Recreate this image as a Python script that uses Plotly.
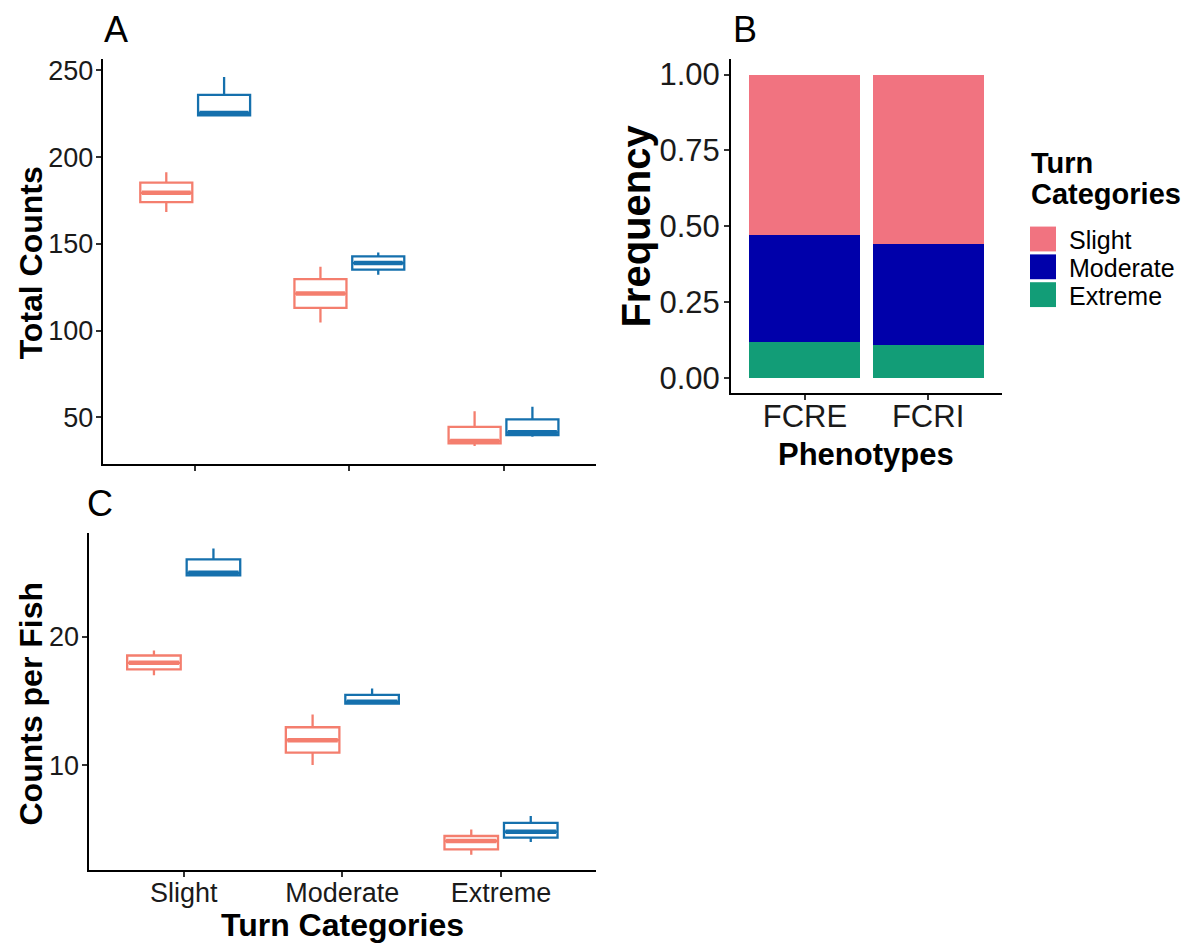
import plotly.graph_objects as go

# ---- data ----
turn_categories = ["Slight", "Moderate", "Extreme"]
phenotypes = ["FCRE", "FCRI"]

# Panel A: total counts, box statistics per turn category
total_fcre_lower = [168.4, 104.8, 33.6]
total_fcre_q1 = [174.1, 113.2, 35.1]
total_fcre_median = [179.5, 121.4, 36.5]
total_fcre_q3 = [185.4, 129.7, 44.6]
total_fcre_upper = [191.3, 136.9, 53.6]

total_fcri_lower = [224.2, 132.3, 38.9]
total_fcri_q1 = [224.2, 135.2, 39.9]
total_fcri_median = [225.5, 139.0, 41.4]
total_fcri_q3 = [236.0, 142.8, 48.9]
total_fcri_upper = [246.2, 145.1, 56.1]

# Panel C: counts per fish
fish_fcre_lower = [17.0, 10.0, 3.0]
fish_fcre_q1 = [17.47, 10.98, 3.43]
fish_fcre_median = [17.98, 11.94, 4.08]
fish_fcre_q3 = [18.55, 12.95, 4.47]
fish_fcre_upper = [18.94, 13.95, 4.98]

fish_fcri_lower = [24.8, 14.8, 4.0]
fish_fcri_q1 = [24.8, 14.8, 4.34]
fish_fcri_median = [25.0, 14.95, 4.8]
fish_fcri_q3 = [26.05, 15.48, 5.5]
fish_fcri_upper = [26.9, 15.97, 6.02]

# Panel B: frequency of each turn category per phenotype
freq_slight = [0.529, 0.560]
freq_moderate = [0.351, 0.332]
freq_extreme = [0.120, 0.108]

# ---- styling ----
FONT = "Liberation Sans, Arial, sans-serif"
COL_FCRE = "#F47E6E"
COL_FCRI = "#1570AD"
BAR_COLORS = {"Slight": "#F17380", "Moderate": "#0000AA", "Extreme": "#129D77"}
W, H = 1203, 945

DODGE = 0.1875
BOX_W = 0.3375


def px_x(p):
    return p / W


def px_y(p):
    return 1 - p / H


def expanded(lo, hi, mult=0.05):
    span = hi - lo
    return [lo - mult * span, hi + mult * span]


fig = go.Figure()

cat_pos = [i + 1 for i in range(len(turn_categories))]


def add_boxes(xa, ya, lower, q1, med, q3, upper, color, offset):
    xs = [c + offset for c in cat_pos]
    fig.add_trace(go.Box(
        x=xs, lowerfence=lower, q1=q1, median=med, q3=q3, upperfence=upper,
        width=BOX_W, whiskerwidth=0, fillcolor="rgba(0,0,0,0)",
        line=dict(color=color, width=2.3), boxpoints=False,
        xaxis=xa, yaxis=ya, showlegend=False, hoverinfo="skip",
    ))
    # heavier median line, as in the ggplot default
    for x, m in zip(xs, med):
        fig.add_trace(go.Scatter(
            x=[x - BOX_W / 2 + 0.01, x + BOX_W / 2 - 0.01], y=[m, m],
            mode="lines", line=dict(color=color, width=4.5),
            xaxis=xa, yaxis=ya, showlegend=False, hoverinfo="skip",
        ))


# Panel A
add_boxes("x", "y", total_fcre_lower, total_fcre_q1, total_fcre_median,
          total_fcre_q3, total_fcre_upper, COL_FCRE, -DODGE)
add_boxes("x", "y", total_fcri_lower, total_fcri_q1, total_fcri_median,
          total_fcri_q3, total_fcri_upper, COL_FCRI, DODGE)

# Panel C
add_boxes("x3", "y3", fish_fcre_lower, fish_fcre_q1, fish_fcre_median,
          fish_fcre_q3, fish_fcre_upper, COL_FCRE, -DODGE)
add_boxes("x3", "y3", fish_fcri_lower, fish_fcri_q1, fish_fcri_median,
          fish_fcri_q3, fish_fcri_upper, COL_FCRI, DODGE)

# Panel B: stacked bars (Extreme at the bottom)
for name, vals in [("Extreme", freq_extreme), ("Moderate", freq_moderate), ("Slight", freq_slight)]:
    fig.add_trace(go.Bar(
        x=phenotypes, y=vals, name=name, width=0.9,
        marker=dict(color=BAR_COLORS[name], line=dict(width=0)),
        xaxis="x2", yaxis="y2", showlegend=False,
    ))

total_lo = min(total_fcre_lower + total_fcri_lower)
total_hi = max(total_fcre_upper + total_fcri_upper)
fish_lo = min(fish_fcre_lower + fish_fcri_lower)
fish_hi = max(fish_fcre_upper + fish_fcri_upper)

axis_common = dict(
    showgrid=False, zeroline=False, showline=True, linecolor="black", linewidth=2,
    ticks="outside", ticklen=5, tickwidth=1.5, tickcolor="#333333",
)

fig.update_layout(
    width=W, height=H,
    margin=dict(l=0, r=0, t=0, b=0),
    paper_bgcolor="white", plot_bgcolor="white",
    barmode="stack", bargap=0.1,
    font=dict(family=FONT, color="black"),
    xaxis=dict(**axis_common, domain=[px_x(102.7), px_x(596)], range=[0.4, 3.6],
               tickvals=cat_pos, showticklabels=False, anchor="y"),
    yaxis=dict(**axis_common, domain=[px_y(464.3), px_y(56)],
               range=expanded(total_lo, total_hi), tickvals=[50, 100, 150, 200, 250],
               tickfont=dict(size=27, color="#1a1a1a"), ticklabelstandoff=-3, anchor="x"),
    xaxis2=dict(**axis_common, domain=[px_x(731), px_x(1002)], range=[-0.6, 1.6],
                type="category", tickfont=dict(size=31, color="#1a1a1a"),
                ticklabelstandoff=-10, anchor="y2"),
    yaxis2=dict(**axis_common, domain=[px_y(392.7), px_y(56.7)], range=[-0.05, 1.05],
                tickvals=[0, 0.25, 0.5, 0.75, 1.0], tickformat=".2f",
                tickfont=dict(size=31, color="#1a1a1a"), ticklabelstandoff=-2, anchor="x2"),
    xaxis3=dict(**axis_common, domain=[px_x(88.5), px_x(596.2)], range=[0.4, 3.6],
                tickvals=cat_pos, ticktext=turn_categories,
                tickfont=dict(size=27, color="#1a1a1a"), ticklabelstandoff=-8, anchor="y3"),
    yaxis3=dict(**axis_common, domain=[px_y(872.7), px_y(533.5)],
                range=expanded(fish_lo, fish_hi), tickvals=[10, 20],
                tickfont=dict(size=27, color="#1a1a1a"), ticklabelstandoff=-3, anchor="x3"),
)

annotations = []


def label(text, x, y, size, angle=0, xanchor="center", yanchor="middle"):
    annotations.append(dict(
        text=text, x=px_x(x), y=px_y(y), xref="paper", yref="paper",
        showarrow=False, textangle=angle, xanchor=xanchor, yanchor=yanchor,
        font=dict(family=FONT, size=size, color="black"),
    ))


# panel tags
label("A", 116, 27, 36)
label("B", 745, 27, 36)
label("C", 100, 504, 36)

# axis titles
label("<b>Total Counts</b>", 31, 262, 32, angle=-90)
label("<b>Counts per Fish</b>", 31, 705, 32, angle=-90)
label("<b>Turn Categories</b>", 342, 928, 32)
label("<b>Frequency</b>", 636, 225, 40, angle=-90)
label("<b>Phenotypes</b>", 866, 454, 31)

# legend for panel B
label("<b>Turn</b>", 1029, 161, 29, xanchor="left")
label("<b>Categories</b>", 1029, 192, 29, xanchor="left")

shapes = []
key_top = 225
key_h = 25
key_step = 28
for i, name in enumerate(turn_categories):
    top = key_top + i * key_step
    shapes.append(dict(
        type="rect", xref="paper", yref="paper",
        x0=px_x(1030), x1=px_x(1056), y0=px_y(top + key_h), y1=px_y(top),
        fillcolor=BAR_COLORS[name], line=dict(width=0),
    ))
    label(name, 1067, top + key_h / 2 + 1, 25, xanchor="left")

fig.update_layout(annotations=annotations, shapes=shapes)

fig.write_html("out.html")
